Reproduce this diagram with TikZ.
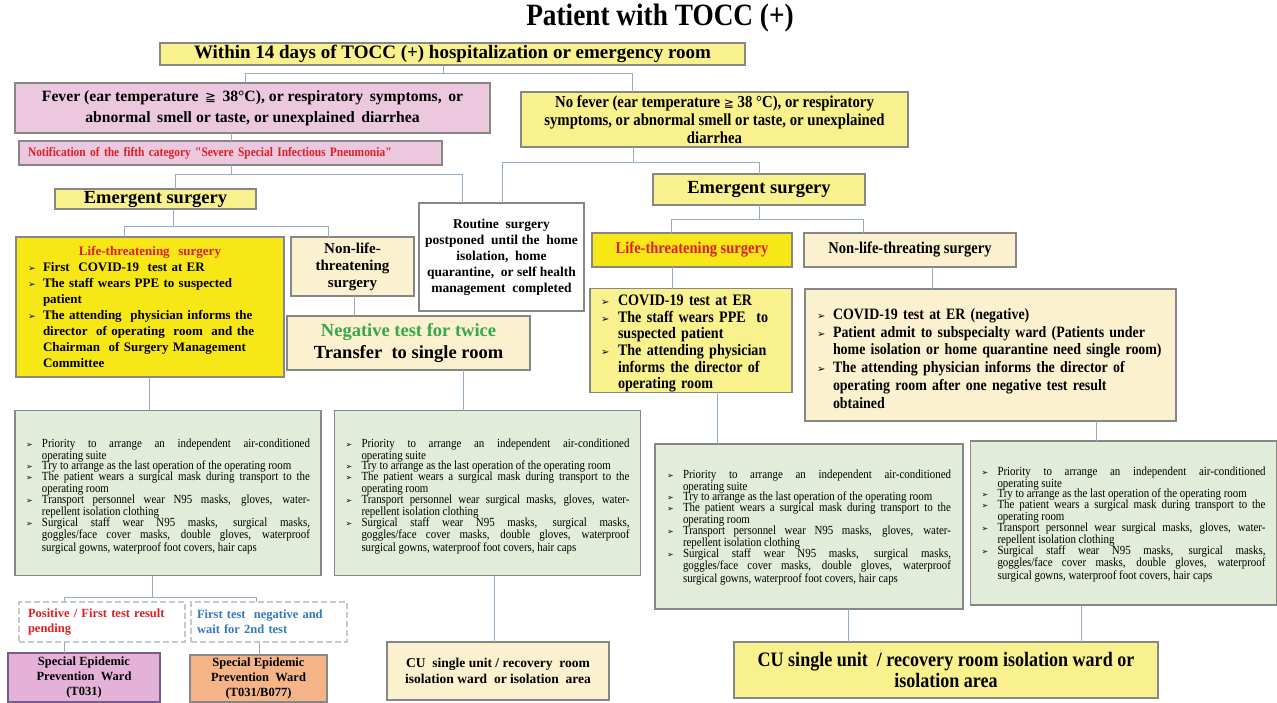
\documentclass[tikz,border=0pt]{standalone}
\usepackage{fontspec}
\setmainfont{Liberation Serif}
\newfontfamily\symf{DejaVu Sans}
\newfontfamily\cond[FakeStretch=0.88]{Liberation Serif}
\definecolor{ylw}{RGB}{249,241,141}
\definecolor{ylwB}{RGB}{247,231,22}
\definecolor{pnk}{RGB}{236,200,222}
\definecolor{crm}{RGB}{252,241,206}
\definecolor{grn}{RGB}{225,236,217}
\definecolor{wpnk}{RGB}{228,178,216}
\definecolor{worg}{RGB}{244,180,136}
\definecolor{bdr}{RGB}{135,135,135}
\definecolor{wbdr}{RGB}{120,92,140}
\definecolor{cline}{RGB}{150,172,196}
\definecolor{txred}{RGB}{222,30,36}
\definecolor{txgrn}{RGB}{52,168,74}
\definecolor{txblu}{RGB}{52,120,190}
\definecolor{dsh}{RGB}{200,200,200}
\newlength\bind
\setlength\bind{14pt}
\newdimen\lastdp
\newcommand\arrsz{8}
\newcommand\arr{\makebox[\bind][l]{\symf\fontsize{\arrsz}{\arrsz}\selectfont ➢}}
\newcommand\bitem[1]{\par\noindent\arr\parbox[t]{\dimexpr\hsize-\bind\relax}{#1\par\global\lastdp=\prevdepth}\par\prevdepth=\lastdp}
\newcommand\jbitem[1]{\par\noindent\arr\parbox[t]{\dimexpr\hsize-\bind\relax}{\leftskip=0pt\rightskip=0pt\parfillskip=0pt plus 1fil\relax #1\par\global\lastdp=\prevdepth}\par\prevdepth=\lastdp}
\newcommand\gtext[1]{\setlength\bind{16pt}\renewcommand\arrsz{8}\hyphenpenalty=10000\lineskiplimit=-6pt\lineskip=0pt\jbitem{Priority to arrange an independent air-conditioned\linebreak operating suite}\jbitem{Try to arrange as the last operation of the operating room}\jbitem{The patient wears a surgical mask during transport to the\linebreak operating room}\jbitem{Transport personnel wear #1 masks, gloves, water-\linebreak repellent isolation clothing}\jbitem{Surgical staff wear N95 masks, surgical masks,\linebreak goggles/face cover masks, double gloves, waterproof\linebreak surgical gowns, waterproof foot covers, hair caps}}
\tikzset{
  box/.style={draw=bdr,line width=1.1pt,inner sep=0pt,outer sep=0pt},
  dbox/.style={draw=dsh,line width=1.5pt,dash pattern=on 6pt off 3pt,fill=white,inner sep=0pt,outer sep=0pt},
  conn/.style={draw=cline,line width=1pt},
  gbox/.style={box,fill=grn,minimum width=306pt,minimum height=165pt,text width=284pt,inner xsep=11pt,align=justify,font=\cond\fontsize{12.4}{10.8}\selectfont,text depth=113pt},
}
\begin{document}
\begin{tikzpicture}[x=1pt,y=-1pt]
\useasboundingbox (0,0) rectangle (1277,703);
\fill[white] (0,0) rectangle (1277,703);

\node[font=\cond\bfseries\fontsize{31}{32}\selectfont] (T) at (660,18) {Patient with TOCC (+)};

\node[box,fill=ylw,minimum width=585pt,minimum height=22pt,font=\bfseries\fontsize{19}{20}\selectfont] (A) at (452.5,54) {Within 14 days of TOCC (+) hospitalization or emergency room};

\node[box,fill=pnk,minimum width=475pt,minimum height=50pt,align=center,font=\bfseries\fontsize{15.7}{21}\selectfont] (B) at (252.5,108) {Fever (ear temperature \,{\symf\mdseries\fontsize{13}{13}\selectfont ≧}\, 38°C), or respiratory \,symptoms, \,or\\abnormal \,smell or taste, or unexplained \,diarrhea};

\node[box,fill=pnk,minimum width=423pt,minimum height=24pt,text width=405pt,inner xsep=9pt,align=left,text=txred,font=\cond\bfseries\fontsize{13}{14}\selectfont] (C) at (230.5,153) {Notification of the fifth category "Severe Special Infectious Pneumonia"};

\node[box,fill=ylw,minimum width=387pt,minimum height=55pt,align=center,font=\cond\bfseries\fontsize{16.8}{18}\selectfont] (NF) at (714.5,119.5) {No fever (ear temperature {\symf\mdseries\fontsize{12}{12}\selectfont ≧} 38 °C), or respiratory\\symptoms, or abnormal smell or taste, or unexplained\\diarrhea};

\node[box,fill=ylw,minimum width=201pt,minimum height=20pt,font=\bfseries\fontsize{18.5}{20}\selectfont] (EL) at (155.5,199) {Emergent surgery};
\node[box,fill=ylw,minimum width=212pt,minimum height=31pt,font=\bfseries\fontsize{18.5}{20}\selectfont] (ER) at (759,189.5) {Emergent surgery};

\node[box,fill=white,minimum width=165pt,minimum height=108pt,align=center,font=\bfseries\fontsize{13.5}{16}\selectfont] (RT) at (501.5,257) {Routine \ surgery\\postponed \ until the \ home\\isolation, \ home\\quarantine, \ or self health\\management \ completed};

\node[box,fill=ylwB,minimum width=268pt,minimum height=140pt,text width=244pt,inner xsep=12pt,align=left,font=\bfseries\fontsize{13}{16}\selectfont] (LL) at (150,307) {\setlength\bind{15pt}\renewcommand\arrsz{9}{\centering\textcolor{txred}{Life-threatening \ surgery}\par}\bitem{First \ COVID-19 \ test at ER}\bitem{The staff wears PPE to suspected\\patient}\bitem{The attending \ physician informs the\\director \ of operating \ room \ and the\\Chairman \ of Surgery Management\\Committee}};

\node[box,fill=crm,minimum width=123pt,minimum height=59pt,align=center,font=\bfseries\fontsize{15}{17}\selectfont] (NL) at (352.5,266.5) {Non-life-\\threatening\\surgery};

\node[box,fill=crm,minimum width=243pt,minimum height=54pt,align=center,font=\bfseries\fontsize{18.5}{22}\selectfont] (NG) at (408.5,343) {\textcolor{txgrn}{Negative test for twice}\\Transfer \ to single room};

\node[gbox] (G1) at (168,493) {\gtext{N95}};
\node[gbox,minimum width=305pt] (G2) at (487.5,493) {\gtext{surgical}};

\node[box,fill=ylwB,minimum width=200pt,minimum height=34pt,text=txred,font=\cond\bfseries\fontsize{16.5}{18}\selectfont] (LR) at (692,250) {Life-threatening surgery};
\node[box,fill=crm,minimum width=212pt,minimum height=34pt,font=\cond\bfseries\fontsize{16.5}{18}\selectfont] (NR) at (910,250) {Non-life-threating surgery};

\node[box,fill=ylw,minimum width=202pt,minimum height=103pt,text width=180pt,inner xsep=11pt,align=left,font=\cond\bfseries\fontsize{16}{16.7}\selectfont] (D) at (691,340.5) {\setlength\bind{17pt}\renewcommand\arrsz{10}\bitem{COVID-19 test at ER}\bitem{The staff wears PPE \ to\\suspected patient}\bitem{The attending physician\\informs the director of\\operating room}};

\node[box,fill=crm,minimum width=371pt,minimum height=132pt,text width=347pt,inner xsep=12pt,align=left,font=\cond\bfseries\fontsize{15.8}{17.9}\selectfont] (E) at (990.5,355) {\setlength\bind{16pt}\renewcommand\arrsz{10}\bitem{COVID-19 test at ER (negative)}\bitem{Patient admit to subspecialty ward (Patients under\\home isolation or home quarantine need single room)}\bitem{The attending physician informs the director of\\operating room after one negative test result\\obtained}};

\node[gbox,minimum width=308pt,text depth=118pt] (G3) at (809,526.5) {\gtext{N95}};
\node[gbox,minimum width=303pt,minimum height=164pt,text depth=117pt] (G4) at (1123.5,523) {\gtext{surgical}};

\node[dbox,minimum width=166pt,minimum height=40pt,text width=148pt,inner xsep=9pt,align=left,text=txred,font=\bfseries\fontsize{12.5}{15}\selectfont] (P1) at (102,622) {Positive / First test result\\pending};
\node[dbox,minimum width=156pt,minimum height=40pt,text width=144pt,inner xsep=6pt,align=left,text=txblu,font=\bfseries\fontsize{12.5}{15}\selectfont] (P2) at (269,622) {First test \ negative and\\wait for 2nd test};

\node[box,fill=wpnk,draw=wbdr,minimum width=152pt,minimum height=49pt,align=center,font=\bfseries\fontsize{12.5}{15}\selectfont] (W1) at (84,677.5) {Special Epidemic\\Prevention \ Ward\\(T031)};
\node[box,fill=worg,minimum width=137pt,minimum height=47pt,align=center,font=\bfseries\fontsize{12.5}{15}\selectfont] (W2) at (258.5,678.5) {Special Epidemic\\Prevention \ Ward\\(T031/B077)};

\node[box,fill=crm,minimum width=222pt,minimum height=58pt,align=center,font=\bfseries\fontsize{13.5}{16}\selectfont] (CS) at (498,671) {CU \ single unit / recovery \ room\\isolation ward \ or isolation \ area};

\node[box,fill=ylw,minimum width=424pt,minimum height=56pt,align=center,font=\cond\bfseries\fontsize{20.5}{21}\selectfont] (CB) at (946,670) {CU single unit \ / recovery room isolation ward or\\isolation area};

% connectors
\coordinate (jA) at (443,74); \coordinate (jB) at (245,74); \coordinate (jN) at (632,74);
\draw[conn] (A.south -| jA) -- (jA);
\draw[conn] (B.north -| jB) -- (jB) -- (jN) -- (NF.north -| jN);
\coordinate (jC) at (231,175); \coordinate (jE) at (175,175); \coordinate (jR) at (462,175);
\draw[conn] (B.south -| jC) -- (C.north -| jC);
\draw[conn] (C.south -| jC) -- (jC);
\draw[conn] (EL.north -| jE) -- (jE) -- (jR) -- (RT.north -| jR);
\coordinate (kN) at (633,163); \coordinate (kR) at (502,163); \coordinate (kE) at (759,163);
\draw[conn] (NF.south -| kN) -- (kN);
\draw[conn] (RT.north -| kR) -- (kR) -- (kE) -- (ER.north -| kE);
\coordinate (mE) at (173,227); \coordinate (mL) at (124,227); \coordinate (mN) at (328,227);
\draw[conn] (EL.south -| mE) -- (mE);
\draw[conn] (LL.north -| mL) -- (mL) -- (mN) -- (NL.north -| mN);
\coordinate (pN) at (354,300);
\draw[conn] (NL.south -| pN) -- (NG.north -| pN);
\coordinate (pL) at (149,390);
\draw[conn] (LL.south -| pL) -- (G1.north -| pL);
\coordinate (pG) at (463,390);
\draw[conn] (NG.south -| pG) -- (G2.north -| pG);
\coordinate (qG) at (152,597); \coordinate (q1) at (64,597); \coordinate (q2) at (256,597);
\draw[conn] (G1.south -| qG) -- (qG);
\draw[conn] (P1.north -| q1) -- (q1) -- (q2) -- (P2.north -| q2);
\draw[conn] (P1.south -| q1) -- (W1.north -| q1);
\coordinate (q3) at (259,650);
\draw[conn] (P2.south -| q3) -- (W2.north -| q3);
\coordinate (rG) at (494,600);
\draw[conn] (G2.south -| rG) -- (CS.north -| rG);
\coordinate (sE) at (759,220); \coordinate (sL) at (671,220); \coordinate (sN) at (863,220);
\draw[conn] (ER.south -| sE) -- (sE);
\draw[conn] (LR.north -| sL) -- (sL) -- (sN) -- (NR.north -| sN);
\coordinate (tL) at (672,280);
\draw[conn] (LR.south -| tL) -- (D.north -| tL);
\coordinate (tN) at (932,280);
\draw[conn] (NR.south -| tN) -- (E.north -| tN);
\coordinate (uD) at (717,420);
\draw[conn] (D.south -| uD) -- (G3.north -| uD);
\coordinate (uE) at (1096,430);
\draw[conn] (E.south -| uE) -- (G4.north -| uE);
\coordinate (v3) at (848,620);
\draw[conn] (G3.south -| v3) -- (CB.north -| v3);
\coordinate (v4) at (1081,620);
\draw[conn] (G4.south -| v4) -- (CB.north -| v4);
\end{tikzpicture}
\end{document}
